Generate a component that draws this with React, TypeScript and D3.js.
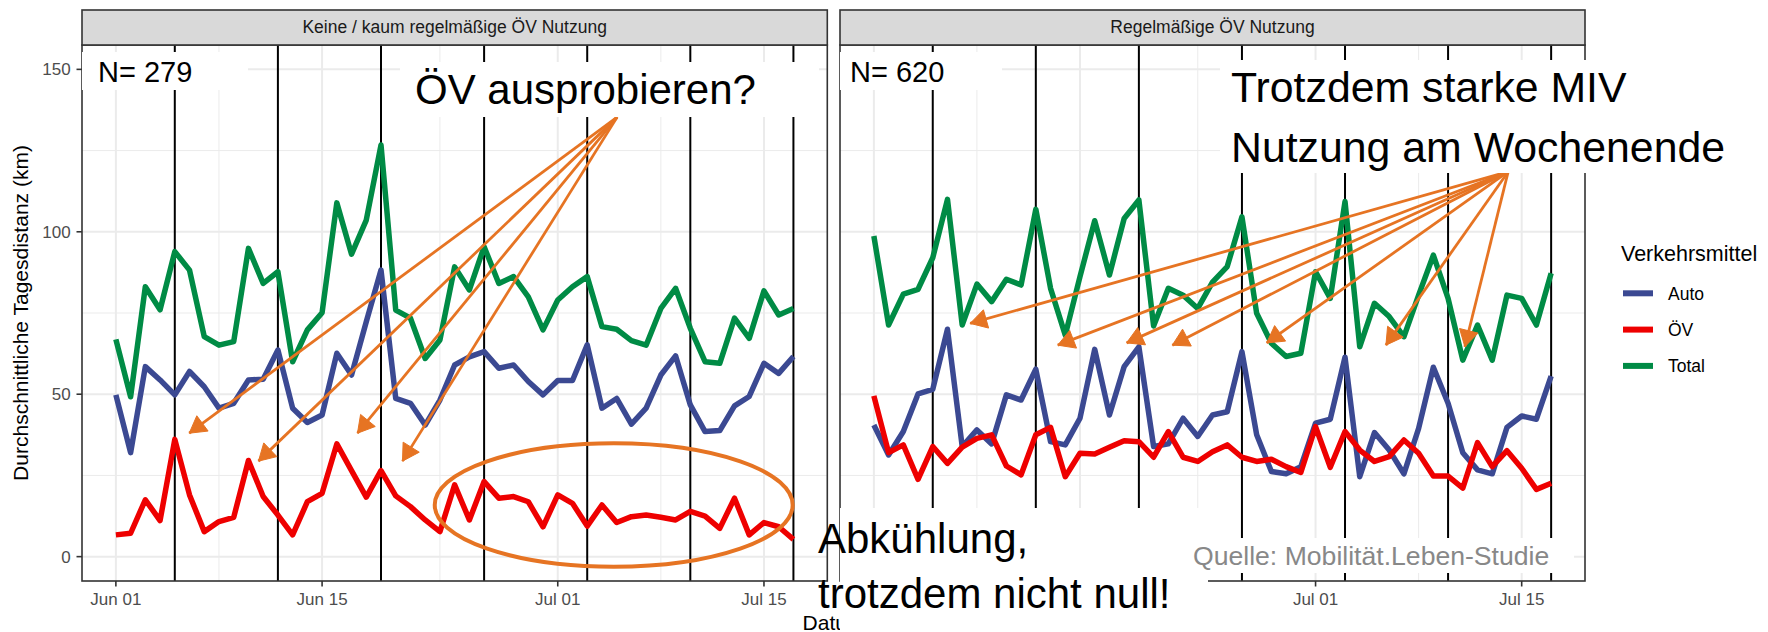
import React from "react";
import * as d3 from "d3";

const W = 1768;
const H = 632;
const FONT = "'Liberation Sans', Arial, Helvetica, sans-serif";

// ---- data ----
const startDate = new Date(Date.UTC(2022, 5, 1));
const endDate = new Date(Date.UTC(2022, 6, 18));
const dates = d3.utcDay.range(startDate, endDate); // Jun 01 .. Jul 17

const panelTitles = ["Keine / kaum regelmäßige ÖV Nutzung", "Regelmäßige ÖV Nutzung"];
const sampleLabels = ["N= 279", "N= 620"];
const seriesNames = ["Auto", "ÖV", "Total"];
const seriesColors = ["#3B4992", "#EE0000", "#008B45"];

const autoLeft = [49.8, 32.0, 58.5, 54.4, 49.8, 57.0, 52.3, 45.7, 47.2, 54.4, 54.6, 63.6, 45.7, 41.3, 43.6, 62.6, 55.9, 72.3, 88.2, 48.7, 47.2, 40.5, 48.2, 59.0, 61.5, 63.1, 58.0, 59.0, 53.9, 49.8, 54.2, 54.2, 65.2, 45.7, 48.7, 40.8, 45.7, 55.9, 61.8, 46.7, 38.5, 38.8, 46.4, 49.3, 59.5, 56.4, 61.6];
const oevLeft = [6.7, 7.2, 17.5, 11.1, 36.1, 19.0, 7.7, 10.8, 12.1, 29.6, 18.5, 12.8, 6.7, 16.9, 19.5, 34.7, 26.5, 18.3, 26.5, 18.7, 15.4, 11.3, 7.7, 22.1, 11.3, 23.1, 18.0, 18.5, 16.9, 9.2, 19.0, 16.4, 9.4, 15.9, 10.5, 12.3, 12.8, 12.1, 11.3, 13.9, 12.5, 8.7, 18.0, 6.7, 10.5, 9.2, 5.3];
const totalLeft = [66.9, 49.2, 83.1, 76.0, 93.9, 88.2, 67.7, 65.1, 66.2, 94.9, 84.1, 87.7, 60.0, 69.8, 75.1, 108.9, 93.1, 103.6, 126.7, 75.9, 73.4, 61.0, 66.7, 89.2, 82.1, 95.4, 84.1, 86.2, 80.0, 69.8, 79.0, 83.1, 86.2, 70.8, 70.0, 66.5, 65.1, 76.4, 82.6, 70.3, 60.0, 59.5, 73.4, 67.2, 81.8, 74.4, 76.4];

const autoRight = [40.5, 31.3, 38.5, 50.1, 51.5, 70.0, 33.9, 39.0, 34.7, 49.8, 48.2, 57.7, 35.4, 34.4, 42.6, 63.8, 43.6, 58.5, 64.6, 33.9, 34.7, 42.6, 37.0, 43.6, 44.6, 63.1, 37.5, 26.2, 25.5, 27.7, 41.1, 42.3, 61.4, 24.6, 38.2, 32.8, 25.5, 39.5, 58.3, 47.2, 32.0, 26.7, 25.5, 39.8, 43.3, 42.3, 55.6];
const oevRight = [49.5, 32.0, 34.4, 23.8, 33.9, 28.7, 33.7, 36.4, 37.5, 27.9, 25.2, 37.5, 39.8, 24.6, 31.8, 31.6, 33.7, 35.7, 35.4, 30.6, 38.5, 30.6, 29.3, 32.3, 34.4, 30.6, 29.3, 30.0, 27.7, 25.9, 40.0, 27.5, 38.5, 32.8, 29.3, 30.8, 35.9, 31.8, 24.8, 24.8, 21.1, 35.1, 27.7, 32.6, 27.2, 20.7, 22.6];
const totalRight = [98.7, 71.3, 80.8, 82.3, 92.0, 110.0, 71.3, 83.9, 78.5, 85.4, 83.6, 106.9, 82.6, 68.2, 86.2, 103.4, 86.7, 104.1, 109.8, 71.0, 82.6, 80.5, 76.4, 84.5, 89.3, 104.6, 74.9, 65.7, 61.6, 62.6, 87.7, 79.5, 109.3, 64.6, 78.0, 73.9, 67.7, 80.5, 92.8, 79.5, 60.5, 71.3, 60.5, 80.5, 79.5, 71.3, 87.2];

const sundays = ["2022-06-05", "2022-06-12", "2022-06-19", "2022-06-26", "2022-07-03", "2022-07-10", "2022-07-17"];
const xTickDates = ["2022-06-01", "2022-06-15", "2022-07-01", "2022-07-15"];
const xTickLabels = ["Jun 01", "Jun 15", "Jul 01", "Jul 15"];
const xMinorDates = ["2022-06-08", "2022-06-23", "2022-07-08"];
const yTicks = [0, 50, 100, 150];
const yMinor = [25, 75, 125];

// annotations (data coordinates)
const leftArrowFrom = { x: "2022-07-05T00:45:00Z", y: 135.3 };
const leftArrowTo = [
  { x: "2022-06-05T23:30:00Z", y: 38 },
  { x: "2022-06-10T16:20:00Z", y: 29.4 },
  { x: "2022-06-17T09:40:00Z", y: 38 },
  { x: "2022-06-20T11:00:00Z", y: 29.4 },
];
const rightArrowFrom = { x: "2022-07-14T02:00:00Z", y: 118.5 };
const rightArrowTo = [
  { x: "2022-06-07T13:00:00Z", y: 71.8 },
  { x: "2022-06-13T11:45:00Z", y: 65.1 },
  { x: "2022-06-18T04:00:00Z", y: 65.8 },
  { x: "2022-06-21T06:30:00Z", y: 65.1 },
  { x: "2022-06-27T16:20:00Z", y: 65.8 },
  { x: "2022-07-05T18:40:00Z", y: 65.1 },
  { x: "2022-07-11T03:20:00Z", y: 64.6 },
];
const ellipseCenter = { x: "2022-07-04T19:10:00Z", y: 15.9 };
const ellipseRadiusDays = 12.15;
const ellipseRadiusY = 19;

const panelData = [
  { series: [autoLeft, oevLeft, totalLeft], arrowFrom: leftArrowFrom, arrowTo: leftArrowTo },
  { series: [autoRight, oevRight, totalRight], arrowFrom: rightArrowFrom, arrowTo: rightArrowTo },
];

// ---- layout ----
const PANEL_X = [[82, 827.3], [840, 1585]];
const PANEL_TOP = 45;
const PANEL_BOTTOM = 581;
const STRIP_TOP = 10;
const ORANGE = "#E67423";
const DAY = 86400000;

const y = d3.scaleLinear().domain([-7.5, 157.5]).range([PANEL_BOTTOM, PANEL_TOP]);
const xDomain = [new Date(startDate.getTime() - 2.3 * DAY), new Date(startDate.getTime() + 48.3 * DAY)];
const xScales = PANEL_X.map(([a, b]) => d3.scaleUtc().domain(xDomain).range([a, b]));
const parse = (s: string) => new Date(s.length === 10 ? s + "T00:00:00Z" : s);

function arrowHead(x1: number, y1: number, x2: number, y2: number, L = 19) {
  const ang = Math.atan2(y2 - y1, x2 - x1);
  const a = Math.PI / 6;
  const p1 = [x2 - L * Math.cos(ang - a), y2 - L * Math.sin(ang - a)];
  const p2 = [x2 - L * Math.cos(ang + a), y2 - L * Math.sin(ang + a)];
  return `M${x2},${y2}L${p1[0]},${p1[1]}L${p2[0]},${p2[1]}Z`;
}

function Panel({ idx }: { idx: number }) {
  const x = xScales[idx];
  const [x0, x1] = PANEL_X[idx];
  const pd = panelData[idx];
  const line = d3
    .line<number>()
    .x((_, i) => x(dates[i]))
    .y((v) => y(v));
  const fx = x(parse(pd.arrowFrom.x));
  const fy = y(pd.arrowFrom.y);
  return (
    <g>
      <rect x={x0} y={PANEL_TOP} width={x1 - x0} height={PANEL_BOTTOM - PANEL_TOP} fill="#fff" />
      {yMinor.map((v) => (
        <line key={"ym" + v} x1={x0} x2={x1} y1={y(v)} y2={y(v)} stroke="#EBEBEB" strokeWidth={1} />
      ))}
      {xMinorDates.map((d) => (
        <line key={"xm" + d} x1={x(parse(d))} x2={x(parse(d))} y1={PANEL_TOP} y2={PANEL_BOTTOM} stroke="#EBEBEB" strokeWidth={1} />
      ))}
      {yTicks.map((v) => (
        <line key={"yM" + v} x1={x0} x2={x1} y1={y(v)} y2={y(v)} stroke="#EBEBEB" strokeWidth={2} />
      ))}
      {xTickDates.map((d) => (
        <line key={"xM" + d} x1={x(parse(d))} x2={x(parse(d))} y1={PANEL_TOP} y2={PANEL_BOTTOM} stroke="#EBEBEB" strokeWidth={2} />
      ))}
      {sundays.map((d) => (
        <line key={"s" + d} x1={x(parse(d))} x2={x(parse(d))} y1={PANEL_TOP} y2={PANEL_BOTTOM} stroke="#000" strokeWidth={2} />
      ))}
      {pd.series.map((vals, si) => (
        <path key={"l" + si} d={line(vals) || ""} fill="none" stroke={seriesColors[si]} strokeWidth={5.5} strokeLinejoin="round" />
      ))}
      {pd.arrowTo.map((t, i) => {
        const tx = x(parse(t.x));
        const ty = y(t.y);
        return (
          <g key={"a" + i}>
            <line x1={fx} y1={fy} x2={tx} y2={ty} stroke={ORANGE} strokeWidth={2.8} />
            <path d={arrowHead(fx, fy, tx, ty)} fill={ORANGE} stroke={ORANGE} strokeWidth={1} strokeLinejoin="miter" />
          </g>
        );
      })}
      {idx === 0 && (
        <ellipse
          cx={x(parse(ellipseCenter.x))}
          cy={y(ellipseCenter.y)}
          rx={x(new Date(parse(ellipseCenter.x).getTime() + ellipseRadiusDays * DAY)) - x(parse(ellipseCenter.x))}
          ry={y(0) - y(ellipseRadiusY)}
          fill="none"
          stroke={ORANGE}
          strokeWidth={4}
        />
      )}
      <rect x={x0} y={PANEL_TOP} width={x1 - x0} height={PANEL_BOTTOM - PANEL_TOP} fill="none" stroke="#333" strokeWidth={1.6} />
      {/* strip */}
      <rect x={x0} y={STRIP_TOP} width={x1 - x0} height={PANEL_TOP - STRIP_TOP} fill="#D9D9D9" stroke="#333" strokeWidth={1.6} />
      <text x={(x0 + x1) / 2} y={33.3} textAnchor="middle" fontSize={17.5} fill="#1A1A1A" fontFamily={FONT}>
        {panelTitles[idx]}
      </text>
      {/* x axis */}
      {xTickDates.map((d, i) => (
        <g key={"xt" + d}>
          <line x1={x(parse(d))} x2={x(parse(d))} y1={PANEL_BOTTOM} y2={PANEL_BOTTOM + 5.5} stroke="#333" strokeWidth={1.6} />
          <text x={x(parse(d))} y={604.5} textAnchor="middle" fontSize={17} fill="#4D4D4D" fontFamily={FONT}>
            {xTickLabels[i]}
          </text>
        </g>
      ))}
    </g>
  );
}

function Label({ box, lines, x, baselines, size, color = "#000" }: any) {
  return (
    <g>
      <rect x={box[0]} y={box[1]} width={box[2] - box[0]} height={box[3] - box[1]} fill="#fff" />
      {lines.map((t: string, i: number) => (
        <text key={i} x={x} y={baselines[i]} fontSize={size} fill={color} fontFamily={FONT}>
          {t}
        </text>
      ))}
    </g>
  );
}

export default function App() {
  return (
    <div style={{ position: "absolute", left: 0, top: 0 }}>
      <svg width={W} height={H} viewBox={`0 0 ${W} ${H}`} style={{ display: "block" }}>
        <rect width={W} height={H} fill="#fff" />
        <Panel idx={0} />
        <Panel idx={1} />
        {/* y axis */}
        {yTicks.map((v) => (
          <g key={"yt" + v}>
            <line x1={82 - 5.5} x2={82} y1={y(v)} y2={y(v)} stroke="#333" strokeWidth={1.6} />
            <text x={70.7} y={y(v) + 6.1} textAnchor="end" fontSize={17} fill="#4D4D4D" fontFamily={FONT}>
              {v}
            </text>
          </g>
        ))}
        <text transform={`translate(27.5,${(PANEL_TOP + PANEL_BOTTOM) / 2}) rotate(-90)`} textAnchor="middle" fontSize={21} fill="#000" fontFamily={FONT}>
          Durchschnittliche Tagesdistanz (km)
        </text>
        <text x={833.5} y={630} textAnchor="middle" fontSize={21} fill="#000" fontFamily={FONT}>
          Datum
        </text>
        {/* legend */}
        <text x={1621} y={260.7} fontSize={21.5} fill="#000" fontFamily={FONT}>
          Verkehrsmittel
        </text>
        {seriesNames.map((n, i) => {
          const cy = 293.3 + i * 36.3;
          return (
            <g key={"lg" + n}>
              <line x1={1623} x2={1653} y1={cy} y2={cy} stroke={seriesColors[i]} strokeWidth={6} />
              <text x={1668} y={cy + 6.2} fontSize={17.5} fill="#000" fontFamily={FONT}>
                {n}
              </text>
            </g>
          );
        })}
        {/* annotation labels */}
        <Label box={[82, 52, 248, 90]} lines={[sampleLabels[0]]} x={98} baselines={[81.7]} size={29} />
        <Label box={[840, 52, 1002, 90]} lines={[sampleLabels[1]]} x={850} baselines={[81.7]} size={29} />
        <Label box={[400, 62, 819, 117]} lines={["ÖV ausprobieren?"]} x={415} baselines={[104]} size={42} />
        <Label box={[1220, 60, 1735, 173]} lines={["Trotzdem starke MIV", "Nutzung am Wochenende"]} x={1231} baselines={[101.7, 161.7]} size={42.8} />
        <Label box={[840, 508, 1208, 640]} lines={["Abkühlung,", "trotzdem nicht null!"]} x={818} baselines={[553, 608]} size={42} />
        <Label box={[1170, 538, 1574, 573]} lines={["Quelle: Mobilität.Leben-Studie"]} x={1193} baselines={[565]} size={26.6} color="#888888" />
      </svg>
    </div>
  );
}
